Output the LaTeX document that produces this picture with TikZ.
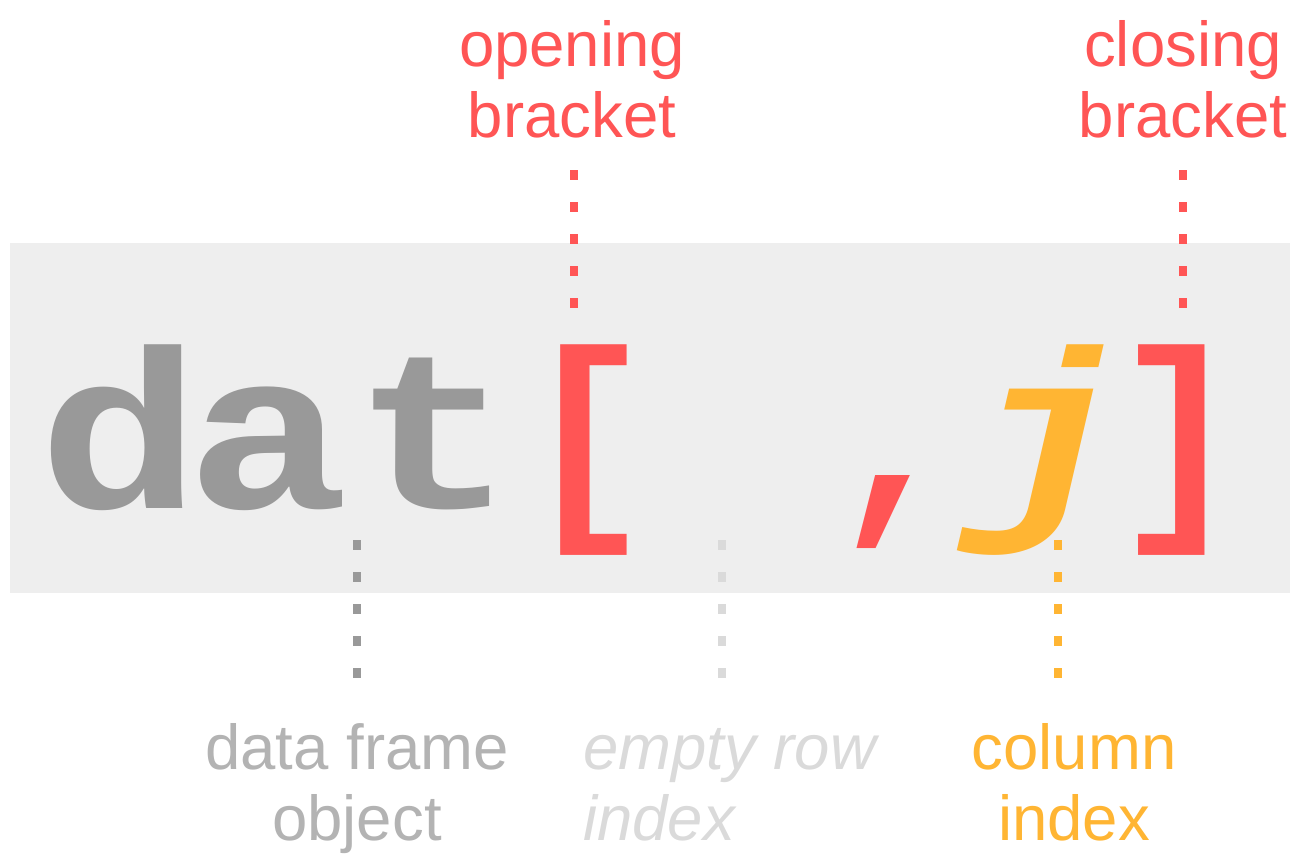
\documentclass[tikz,border=0pt]{standalone}
\usepackage{fontspec}
\usepackage{graphicx}
\setmainfont{Liberation Sans}
\newfontfamily\codefont{Liberation Mono}
\definecolor{bgbox}{HTML}{EEEEEE}
\definecolor{codegray}{HTML}{999999}
\definecolor{labgray}{HTML}{B3B3B3}
\definecolor{lightgray}{HTML}{DADADA}
\definecolor{brred}{HTML}{FF5555}
\definecolor{colorange}{HTML}{FFB533}
\newcommand{\wide}[1]{\scalebox{1.2}[1]{#1}}
\tikzset{
  codechar/.style={anchor=base, inner sep=0pt, font=\codefont\bfseries\fontsize{226bp}{226bp}\selectfont},
  lab/.style={anchor=base, inner sep=0pt, align=center, font=\fontsize{63.5bp}{71bp}\selectfont},
  dotline/.style={line width=8bp, dash pattern=on 10bp off 22bp}
}
\begin{document}
\begin{tikzpicture}[x=1bp, y=-1bp]
\useasboundingbox (0,0) rectangle (1294,855);
\fill[bgbox] (10,243) rectangle (1290,593);
% code
\node[codechar, text=codegray] (cd) at (120,508) {\wide{d}};
\node[codechar, text=codegray] (ca) at (268,508) {\wide{a}};
\node[codechar, text=codegray] (ct) at (434,508) {\wide{t}};
\node[codechar, text=brred] (cob) at (587,508) {[};
\node[codechar, text=brred] (ccm) at (896,508) {,};
\node[codechar, text=colorange] (cj) at (1047,508) {\wide{\itshape j}};
\node[codechar, text=brred] (ccb) at (1178,508) {]};
% labels
\node[lab, text=brred] (lob) at (572,137) {opening\\bracket};
\node[lab, text=brred] (lcb) at (1183,137) {closing\\bracket};
\node[lab, text=labgray] (ldf) at (357,840) {data frame\\object};
\node[lab, text=lightgray, anchor=base west, align=left, font=\itshape\fontsize{63.5bp}{71bp}\selectfont] (ler) at (583,840) {empty row\\index};
\node[lab, text=colorange] (lci) at (1074,840) {column\\index};
% connector ends
\coordinate (a1) at (574,170); \coordinate (a2) at (574,308);
\coordinate (b1) at (1183,170); \coordinate (b2) at (1183,308);
\coordinate (c1) at (357,540); \coordinate (c2) at (357,678);
\coordinate (d1) at (722,540); \coordinate (d2) at (722,678);
\coordinate (e1) at (1058,540); \coordinate (e2) at (1058,678);
\draw[dotline, brred] (a1) -- (a2);
\draw[dotline, brred] (b1) -- (b2);
\draw[dotline, codegray] (c1) -- (c2);
\draw[dotline, lightgray] (d1) -- (d2);
\draw[dotline, colorange] (e1) -- (e2);
\end{tikzpicture}
\end{document}
